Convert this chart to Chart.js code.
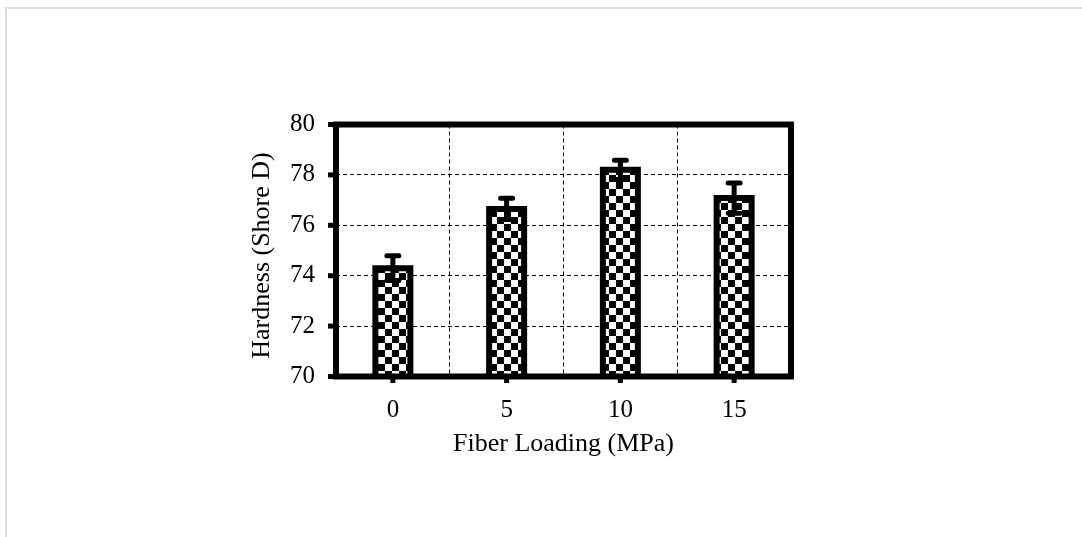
<!DOCTYPE html>
<html>
<head>
<meta charset="utf-8">
<script src="https://cdn.jsdelivr.net/npm/chart.js@4.4.1/dist/chart.umd.min.js"></script>
<style>
  html, body { margin: 0; padding: 0; background: #fff; }
  body { width: 1082px; height: 537px; position: relative; overflow: hidden; }
  #frame { position: absolute; left: 5px; top: 7px; width: 1200px; height: 700px;
           border-top: 2px solid #dcdcdc; border-left: 2px solid #dcdcdc; }
  canvas { position: absolute; left: 0; top: 0; }
</style>
</head>
<body>
<div id="frame"></div>
<canvas id="c" width="1082" height="537"></canvas>
<script>
const categories = ['0', '5', '10', '15'];
const hardness = [74.3, 76.65, 78.2, 77.08];
const hardnessError = [0.49, 0.42, 0.38, 0.6];
const yTicks = [70, 72, 74, 76, 78, 80];
const xTitle = 'Fiber Loading (MPa)';
const yTitle = 'Hardness (Shore D)';

const canvas = document.getElementById('c');
const ctx0 = canvas.getContext('2d');

// checkerboard pattern
const tile = document.createElement('canvas');
tile.width = 14; tile.height = 14;
const t = tile.getContext('2d');
t.fillStyle = '#fff'; t.fillRect(0, 0, 14, 14);
t.fillStyle = '#000'; t.fillRect(0, 0, 7, 7); t.fillRect(7, 7, 7, 7);
const checker = ctx0.createPattern(tile, 'repeat');

const FONT = "'Liberation Serif', 'Times New Roman', serif";

const decorPlugin = {
  id: 'decor',
  afterDatasetsDraw(chart) {
    const ctx = chart.ctx;
    const area = chart.chartArea;
    const yScale = chart.scales.y;
    const meta = chart.getDatasetMeta(0);
    ctx.save();
    // bar outlines (centered on bar edges)
    ctx.strokeStyle = '#000';
    ctx.lineWidth = 6;
    ctx.lineJoin = 'miter';
    meta.data.forEach(bar => {
      const p = bar.getProps(['x', 'y', 'base', 'width'], true);
      const base = Math.min(p.base, area.bottom);
      const l = p.x - p.width / 2, r = p.x + p.width / 2;
      ctx.beginPath();
      ctx.moveTo(l, base);
      ctx.lineTo(l, p.y);
      ctx.lineTo(r, p.y);
      ctx.lineTo(r, base);
      ctx.stroke();
    });
    // error bars
    ctx.lineWidth = 5;
    ctx.lineCap = 'round';
    meta.data.forEach((bar, i) => {
      const x = bar.x;
      const hi = yScale.getPixelForValue(hardness[i] + hardnessError[i]);
      const lo = yScale.getPixelForValue(hardness[i] - hardnessError[i]);
      ctx.beginPath();
      ctx.moveTo(x, hi); ctx.lineTo(x, lo);
      ctx.moveTo(x - 6, hi); ctx.lineTo(x + 6, hi);
      ctx.moveTo(x - 6, lo); ctx.lineTo(x + 6, lo);
      ctx.stroke();
    });
    ctx.lineCap = 'butt';
    // y tick marks (outward)
    ctx.lineWidth = 5;
    yTicks.forEach(v => {
      const y = yScale.getPixelForValue(v);
      ctx.beginPath();
      ctx.moveTo(area.left - 8, y); ctx.lineTo(area.left, y);
      ctx.stroke();
    });
    // x tick marks (outward) at category centers
    meta.data.forEach(bar => {
      ctx.beginPath();
      ctx.moveTo(bar.x, area.bottom); ctx.lineTo(bar.x, area.bottom + 6.5);
      ctx.stroke();
    });
    // plot frame
    ctx.lineWidth = 6;
    ctx.lineJoin = 'miter';
    ctx.strokeRect(area.left, area.top, area.right - area.left, area.bottom - area.top);
    // y axis title
    ctx.fillStyle = '#000';
    ctx.font = '26px ' + FONT;
    ctx.textAlign = 'center';
    ctx.textBaseline = 'middle';
    ctx.translate(262, (area.top + area.bottom) / 2 + 5);
    ctx.rotate(-Math.PI / 2);
    ctx.fillText(yTitle, 0, 0);
    ctx.restore();
  }
};

new Chart(canvas, {
  type: 'bar',
  data: {
    labels: categories,
    datasets: [{
      data: hardness,
      backgroundColor: checker,
      borderWidth: 0,
      barThickness: 35
    }]
  },
  options: {
    responsive: false,
    animation: false,
    devicePixelRatio: 1,
    layout: { padding: { left: 230, right: 291, top: 124.5, bottom: 60 } },
    plugins: { legend: { display: false }, tooltip: { enabled: false } },
    scales: {
      x: {
        afterFit: s => { s.height = 100.5; },
        grid: { color: '#000', lineWidth: 1, drawTicks: false, offset: true },
        border: { display: false, dash: [4, 3] },
        ticks: { color: '#000', font: { family: FONT, size: 25 }, padding: 19 },
        title: { display: true, text: xTitle, color: '#000',
                 font: { family: FONT, size: 26 }, padding: { top: 0, bottom: 17 } }
      },
      y: {
        min: 70, max: 80,
        afterFit: s => { s.width = 106; },
        afterBuildTicks: s => { s.ticks = yTicks.map(v => ({ value: v })); },
        grid: { color: '#000', lineWidth: 1, drawTicks: false },
        border: { display: false, dash: [4, 3] },
        ticks: { color: '#000', font: { family: FONT, size: 25 }, padding: 21 },
        title: { display: false }
      }
    }
  },
  plugins: [decorPlugin]
});
</script>
</body>
</html>
